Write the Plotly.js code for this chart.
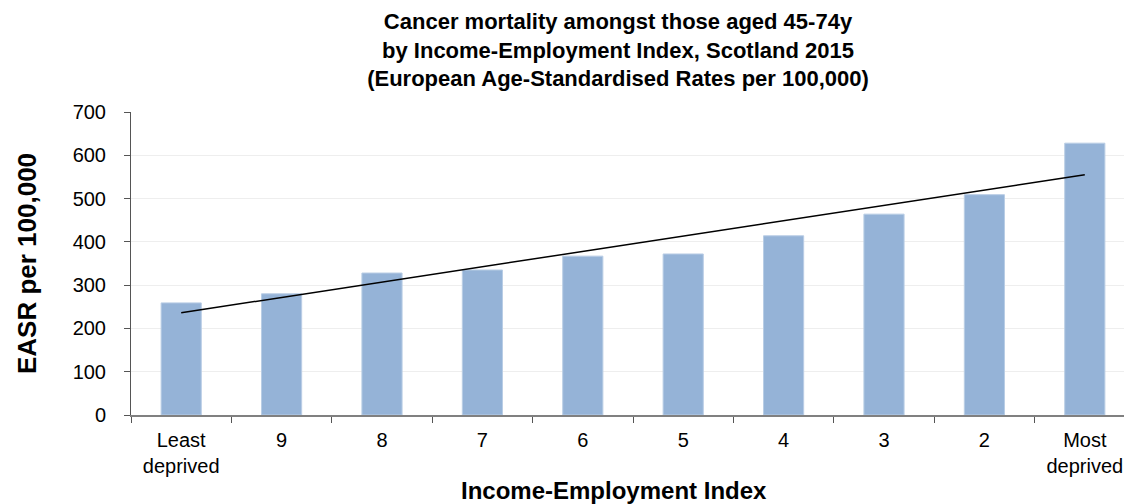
<!DOCTYPE html>
<html><head><meta charset="utf-8">
<script src="https://cdn.plot.ly/plotly-3.0.1.min.js"></script>
<style>html,body{margin:0;padding:0;overflow:hidden;background:#fff}</style>
</head><body><div id="chart"></div>
<script>
const categories = ["Least<br>deprived", "9", "8", "7", "6", "5", "4", "3", "2", "Most<br>deprived"];
const easr = [259, 280, 328, 335, 367, 372, 414, 464, 509, 628];
const yTicks = [0, 100, 200, 300, 400, 500, 600, 700];

// Linear trendline (least squares) over category index, as in the original spreadsheet chart
const n = easr.length;
const xs = easr.map((_, i) => i + 1);
const mx = xs.reduce((a, b) => a + b, 0) / n;
const my = easr.reduce((a, b) => a + b, 0) / n;
let sxy = 0, sxx = 0;
for (let i = 0; i < n; i++) { sxy += (xs[i] - mx) * (easr[i] - my); sxx += (xs[i] - mx) ** 2; }
const slope = sxy / sxx, icpt = my - slope * mx;
const trend = xs.map(x => icpt + slope * x);

const font = "Liberation Sans, Arial, sans-serif";
const W = 1160, H = 504;
const M = { l: 131, r: 25, t: 112, b: 89 };
const PW = W - M.l - M.r, PH = H - M.t - M.b;
Plotly.newPlot("chart", [
  { type: "bar", x: categories, y: easr, marker: { color: "#95b3d7", line: { color: "#b9cde5", width: 1 } }, hoverinfo: "y" },
  { type: "scatter", mode: "lines", x: categories, y: trend, line: { color: "#000", width: 1.5 }, hoverinfo: "skip" }
], {
  width: W, height: H,
  margin: M,
  showlegend: false,
  bargap: 0.6,
  paper_bgcolor: "#fff", plot_bgcolor: "#fff",
  font: { family: font, color: "#000" },
  title: {
    text: "<b>Cancer mortality amongst those aged 45-74y<br>by Income-Employment Index, Scotland 2015<br>(European Age-Standardised Rates per 100,000)</b>",
    font: { size: 22, family: font, color: "#000" },
    xref: "container", x: 618 / W, xanchor: "center",
    yref: "container", y: 1 - 29 / H, yanchor: "top"
  },
  xaxis: {
    type: "category",
    tickson: "boundaries", ticks: "outside", ticklen: 6, tickcolor: "#555",
    showline: true, linecolor: "#808080", linewidth: 2,
    showgrid: false,
    ticklabelstandoff: 6,
    tickfont: { size: 20, family: font, color: "#000" }
  },
  yaxis: {
    range: [0, 700], tickvals: yTicks, ticktext: yTicks.map(String),
    ticks: "outside", ticklen: 6, tickcolor: "#555",
    showline: true, linecolor: "#555", linewidth: 1,
    showgrid: true, gridcolor: "#eeeeee", gridwidth: 1,
    zeroline: false,
    ticklabelstandoff: 14,
    tickfont: { size: 20, family: font, color: "#000" },
    title: { text: "<b>EASR per 100,000</b>", font: { size: 26, family: font, color: "#000" }, standoff: 28 }
  },
  annotations: [{
    text: "<b>Income-Employment Index</b>",
    font: { size: 24, family: font, color: "#000" },
    xref: "paper", x: (614 - M.l) / PW, xanchor: "center",
    yref: "paper", y: (H - M.b - 490) / PH, yanchor: "middle",
    showarrow: false
  }]
}, { staticPlot: true });
</script></body></html>
